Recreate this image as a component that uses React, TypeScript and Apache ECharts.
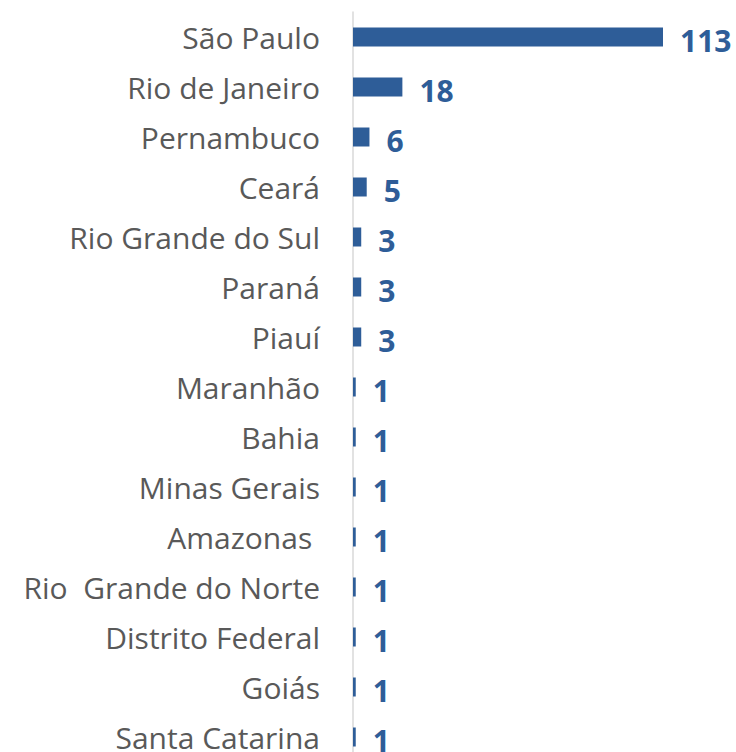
import React, { useEffect, useRef } from "react";
import * as echarts from "echarts";

const categories = [
  "São Paulo",
  "Rio de Janeiro",
  "Pernambuco",
  "Ceará",
  "Rio Grande do Sul",
  "Paraná",
  "Piauí",
  "Maranhão",
  "Bahia",
  "Minas Gerais",
  "Amazonas ",
  "Rio  Grande do Norte",
  "Distrito Federal",
  "Goiás",
  "Santa Catarina",
];
const values = [113, 18, 6, 5, 3, 3, 3, 1, 1, 1, 1, 1, 1, 1, 1];

const BLUE = "#2E5D98";

export default function App() {
  const ref = useRef<HTMLDivElement>(null);
  useEffect(() => {
    if (!ref.current) return;
    const chart = echarts.init(ref.current, undefined, { renderer: "svg" });
    chart.setOption({
      animation: false,
      textStyle: { fontFamily: "Open Sans" },
      grid: { left: 353, top: 12, width: 329.2, height: 750, containLabel: false },
      xAxis: {
        type: "value",
        min: 0,
        max: 120,
        show: false,
      },
      yAxis: {
        type: "category",
        inverse: true,
        data: categories,
        axisLine: { show: true, lineStyle: { color: "#D9D9D9", width: 1.5 } },
        axisTick: { show: false },
        axisLabel: {
          color: "#595959",
          fontSize: 30,
          fontFamily: "Open Sans",
          margin: 33,
        },
      },
      series: [
        {
          type: "bar",
          data: values,
          barWidth: 19,
          itemStyle: { color: BLUE },
          label: {
            show: true,
            position: "right",
            distance: 17,
            offset: [0, 3],
            color: BLUE,
            fontSize: 30,
            fontWeight: "bold",
            fontFamily: "Open Sans",
          },
        },
      ],
    });
    return () => chart.dispose();
  }, []);
  return (
    <div
      style={{ position: "fixed", left: 0, top: 0, width: 736, height: 752, overflow: "hidden", background: "#fff" }}
    >
      <div ref={ref} style={{ width: 736, height: 780 }} />
    </div>
  );
}
